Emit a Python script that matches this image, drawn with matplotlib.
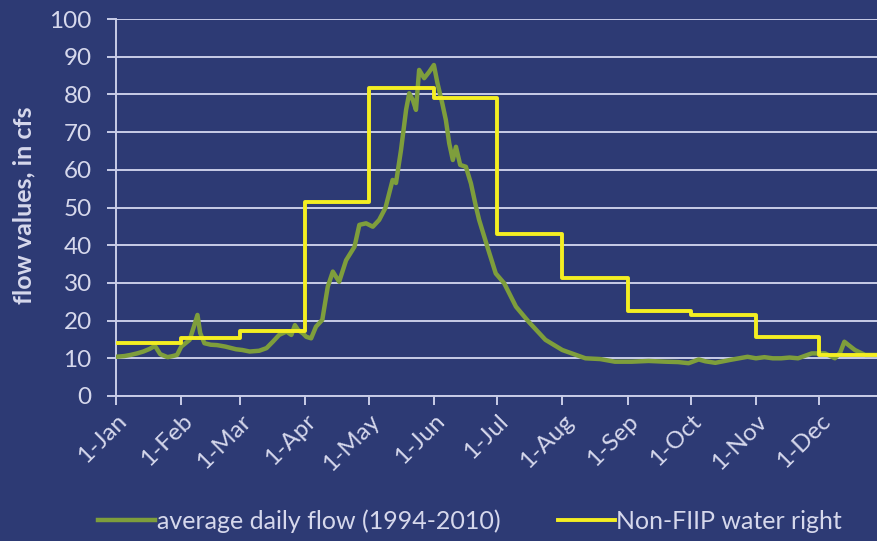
import matplotlib
matplotlib.use('Agg')
import matplotlib.pyplot as plt

# month tick positions (day of year, 0 = 1-Jan)
month_days = [0, 31, 59, 90, 120, 151, 181, 212, 243, 273, 304, 334]
month_labels = ['1-Jan', '1-Feb', '1-Mar', '1-Apr', '1-May', '1-Jun',
                '1-Jul', '1-Aug', '1-Sep', '1-Oct', '1-Nov', '1-Dec']

# Non-FIIP water right (step function, value holds until next break)
right_days = [0, 31, 59, 90, 120, 151, 181, 212, 243, 273, 304, 334, 361]
right_cfs = [14, 15.5, 17.3, 51.5, 81.7, 79, 43, 31.3, 22.5, 21.5, 15.6, 11, 11]

# average daily flow (1994-2010)
flow_days = [0, 4, 7, 10, 13, 16, 18.5, 21, 24.5, 27, 29, 31, 33, 35, 37, 38.7,
             40, 42, 45, 48, 52, 57, 60, 63.5, 68, 71.5, 74.5, 77.5, 81, 83.3,
             85, 86.5, 88.8, 90.4, 92.7, 95, 98, 100.6, 103, 106, 109.3, 113.3,
             115.6, 118.8, 122, 125, 128, 131.4, 133, 135.4, 137.8, 139.3, 141,
             142.5, 144, 146.4, 148.8, 151, 152.7, 155, 156.7, 158.3, 160, 161.5,
             163.5, 166.2, 168.6, 171, 172.5, 176.4, 180.4, 184.4, 190, 196, 204,
             212, 218, 223, 230, 237, 245, 253, 261, 267, 272, 276.8, 280, 284.7,
             292, 300, 304, 308, 312, 316, 320, 324, 327, 330.5, 336.8, 341.5,
             344, 346, 348, 351, 355.8, 360.5]
flow_cfs = [10.4, 10.6, 10.9, 11.3, 11.8, 12.5, 13.3, 11.1, 10.3, 10.6, 10.9, 13.1,
            14.0, 14.9, 18.4, 21.5, 16.7, 14.0, 13.6, 13.5, 13.1, 12.4, 12.2, 11.8,
            12.0, 12.7, 14.4, 16.2, 17.1, 16.2, 18.8, 17.5, 16.6, 15.7, 15.3, 18.4,
            20.2, 29, 33, 30.3, 36, 39.6, 45.4, 45.8, 44.9, 46.7, 49.9, 57.3, 56.5,
            65.3, 75.9, 80.3, 78.5, 75.9, 86.5, 84.3, 86, 87.8, 83, 77.6, 73.2, 67,
            62.6, 66.1, 61.3, 60.8, 56.4, 50.2, 46.7, 39.6, 32.5, 29.9, 23.7, 19.7,
            14.9, 12.2, 11.0, 10.0, 9.8, 9.1, 9.1, 9.3, 9.1, 9.0, 8.7, 9.7, 9.2,
            8.8, 9.6, 10.4, 10.0, 10.3, 10.0, 10.0, 10.2, 10.0, 10.6, 11.3, 11.3,
            10.0, 11.5, 14.4, 13.5, 12.2, 10.9, 10.9]

bg = '#2D3A74'
grid_col = '#C9CCE8'
text_col = '#D6D8EC'
green = '#7E9E3C'
yellow = '#F4EE22'
font = 'Lato'

fig = plt.figure(figsize=(8.77, 5.41), dpi=100, facecolor=bg)
ax = fig.add_axes([116 / 877, 145 / 541, 761 / 877, 377 / 541])
ax.set_facecolor(bg)

ax.plot(flow_days, flow_cfs, color=green, lw=3.2, solid_joinstyle='round',
        label='average daily flow (1994-2010)', zorder=3)
ax.plot(right_days, right_cfs, color=yellow, lw=2.8, drawstyle='steps-post',
        label='Non-FIIP water right', zorder=4)

ax.set_xlim(0, 361.5)
ax.set_ylim(0, 100)
ax.set_yticks(range(0, 101, 10))
ax.set_xticks(month_days)
ax.set_xticklabels(month_labels, rotation=45, ha='right', va='top',
                   rotation_mode='anchor')
ax.yaxis.grid(True, color=grid_col, lw=1.4)
ax.set_axisbelow(True)

for s in ['top', 'right']:
    ax.spines[s].set_visible(False)
ax.spines['left'].set_color(grid_col)
ax.spines['left'].set_linewidth(1.4)
ax.spines['bottom'].set_color(grid_col)
ax.spines['bottom'].set_linewidth(1.4)
ax.tick_params(colors=grid_col, width=1.4, length=6.5)
ax.tick_params(axis='y', labelsize=17.5, labelcolor=text_col, pad=11)
ax.tick_params(axis='x', labelsize=17.5, labelcolor=text_col, pad=4)
for lbl in ax.get_xticklabels() + ax.get_yticklabels():
    lbl.set_family(font)

fig.text(24 / 877, 1 - 205 / 541, 'flow values, in cfs', rotation=90,
         ha='center', va='center', fontsize=18, fontweight='bold',
         color=text_col, family=font)

leg = fig.legend(loc='center', bbox_to_anchor=(470 / 877, 1 - 521 / 541),
                 ncol=2, frameon=False, handlelength=2.3, handletextpad=0.05,
                 columnspacing=2.3, prop={'family': font, 'size': 18})
for t in leg.get_texts():
    t.set_color(text_col)

fig.savefig('out.png', dpi=100, facecolor=bg)
